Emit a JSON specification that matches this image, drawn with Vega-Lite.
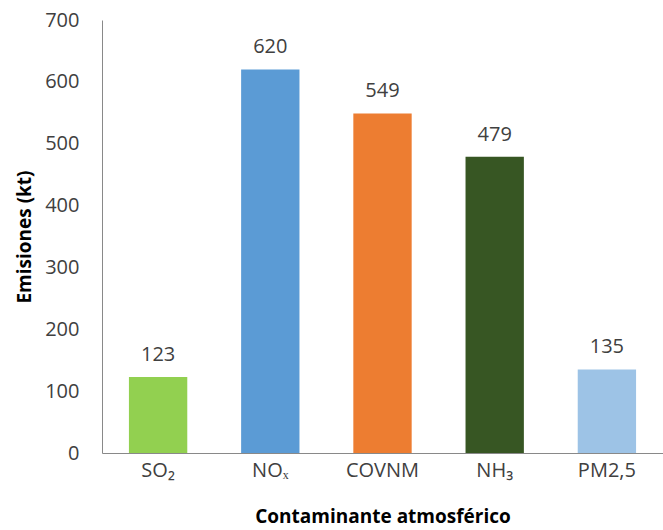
{
  "$schema": "https://vega.github.io/schema/vega-lite/v6.json",
  "width": 561,
  "height": 433,
  "autosize": "none",
  "padding": {"left": 102, "top": 20, "right": 0, "bottom": 77},
  "background": "white",
  "config": {"view": {"stroke": null}, "font": "Open Sans"},
  "data": {"values": [
    {"contaminante": "SO₂", "emisiones": 123, "color": "#92d050"},
    {"contaminante": "NOₓ", "emisiones": 620, "color": "#5b9bd5"},
    {"contaminante": "COVNM", "emisiones": 549, "color": "#ed7d31"},
    {"contaminante": "NH₃", "emisiones": 479, "color": "#375623"},
    {"contaminante": "PM2,5", "emisiones": 135, "color": "#9dc3e6"}
  ]},
  "encoding": {
    "x": {"field": "contaminante", "type": "nominal", "sort": null,
      "scale": {"paddingInner": 0.48, "paddingOuter": 0.24},
      "axis": {"title": "Contaminante atmosférico", "labelAngle": 0, "ticks": false,
        "labelFontSize": 20, "labelColor": "#404040", "labelPadding": 7,
        "titleFontSize": 19, "titleFontWeight": "bold", "titleColor": "#000000", "titlePadding": 27,
        "domainColor": "#898989", "domainWidth": 1}},
    "y": {"field": "emisiones", "type": "quantitative",
      "scale": {"domain": [0, 700]},
      "axis": {"title": "Emisiones (kt)", "values": [0,100,200,300,400,500,600,700], "grid": false, "ticks": false,
        "labelFontSize": 20, "labelColor": "#404040", "labelPadding": 23,
        "titleFontSize": 19, "titleFontWeight": "bold", "titleColor": "#000000", "titlePadding": 10,
        "domainColor": "#898989", "domainWidth": 1}}
  },
  "layer": [
    {"mark": {"type": "bar"},
     "encoding": {"color": {"field": "color", "type": "nominal", "scale": null, "legend": null}}},
    {"mark": {"type": "text", "baseline": "alphabetic", "dy": -16, "fontSize": 20, "color": "#404040"},
     "encoding": {"text": {"field": "emisiones", "type": "quantitative"}}}
  ]
}
